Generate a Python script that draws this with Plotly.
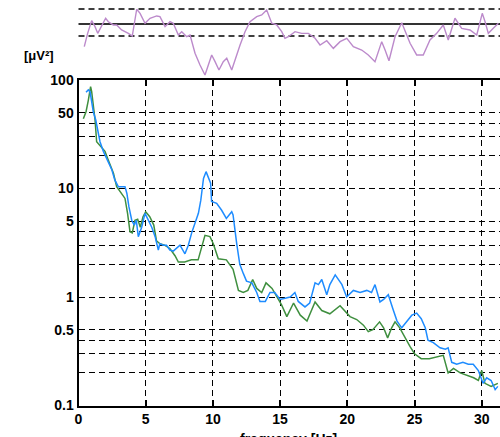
import plotly.graph_objects as go

# ---- data ----
freq_blue = [0.56, 0.73, 0.86, 0.98, 1.1, 1.28, 1.43, 1.6, 1.85, 2.2, 2.47, 2.7, 2.96, 3.46, 3.6, 3.75,
             3.96, 4.15, 4.3, 4.45, 4.7, 4.95, 5.2, 5.45, 5.7, 5.94, 6.05, 6.3, 6.55, 6.8, 7.05, 7.3,
             7.55, 7.92, 8.17, 8.42, 8.67, 8.92, 9.1, 9.3, 9.49, 9.66, 9.83, 9.9, 10.28, 10.65, 11.0,
             11.4, 11.5, 11.77, 12.0, 12.26, 12.5, 12.9, 13.26, 13.5, 13.9, 14.25, 14.6, 15.0, 15.36,
             15.75, 16.1, 16.35, 16.85, 17.2, 17.6, 17.85, 18.1, 18.47, 18.7, 19.1, 19.6, 19.95, 20.45,
             20.95, 21.45, 21.8, 22.06, 22.43, 22.7, 23.05, 23.4, 23.7, 24.05, 24.4, 24.8, 25.16, 25.5,
             25.8, 26.0, 26.4, 26.9, 27.3, 27.5, 27.77, 28.14, 28.6, 29.0, 29.37, 29.75, 30.1, 30.37,
             30.7, 31.0, 31.2]
power_blue = [77, 81, 78, 65, 51, 43, 35, 27, 22, 18, 15, 12, 10.4, 10.4, 9, 6.8,
              5.1, 4.6, 5.1, 3.6, 4.4, 5.9, 5.1, 4.4, 3.6, 2.7, 3.1, 3.0, 3.0, 2.7, 2.65, 2.8,
              3.0, 2.5, 3.0, 3.9, 4.8, 5.9, 7.8, 12.4, 14.3, 12.4, 11.2, 7.6, 7.3, 6.3, 5.3,
              6.1, 5.7, 3.1, 2.0, 1.65, 1.4, 1.35, 1.1, 0.91, 0.91, 1.1, 1.1, 0.95, 0.98,
              1.0, 1.1, 0.91, 0.81, 0.88, 1.35, 1.3, 1.45, 1.05, 1.3, 1.6, 1.3, 1.0, 1.15,
              1.1, 1.15, 1.1, 1.3, 0.9, 0.95, 1.05, 0.77, 0.6, 0.52, 0.59, 0.68, 0.71, 0.63,
              0.52, 0.4, 0.38, 0.34, 0.33, 0.34, 0.25, 0.24, 0.25, 0.24, 0.24, 0.21, 0.16, 0.18,
              0.17, 0.14, 0.15]

freq_green = [0.36, 0.56, 0.73, 0.9, 0.98, 1.1, 1.23, 1.35, 1.6, 1.97, 2.2, 2.6, 2.84, 3.2, 3.46,
              3.65, 3.83, 4.0, 4.2, 4.4, 4.6, 4.8, 5.0, 5.3, 5.6, 5.8, 6.05, 6.4, 6.8, 7.18, 7.43,
              7.9, 8.4, 8.9, 9.16, 9.41, 9.78, 10.03, 10.4, 11.0, 11.5, 11.9, 12.26, 12.6, 12.96,
              13.26, 13.63, 13.95, 14.4, 14.75, 15.1, 15.5, 16.0, 16.5, 17.0, 17.6, 18.1, 18.7,
              19.46, 20.2, 20.7, 21.2, 21.56, 21.9, 22.4, 22.7, 23.0, 23.3, 23.55, 23.9, 24.3,
              24.66, 25.0, 25.5, 26.1, 26.6, 27.14, 27.5, 27.9, 28.4, 28.9, 29.4, 29.75, 30.0,
              30.24, 30.7, 31.2]
power_green = [44, 51, 65, 87, 78, 57, 43, 27, 25, 22, 18.5, 13.8, 10.4, 9, 8.1,
               5.9, 4.0, 3.9, 5.1, 5.2, 4.4, 5.5, 6.1, 5.5, 4.6, 3.3, 3.1, 3.0, 2.8, 2.4, 2.1,
               2.1, 2.2, 2.2, 2.9, 3.7, 3.6, 3.1, 2.25, 2.2, 1.8, 1.15, 1.1, 1.15, 1.45,
               1.2, 1.1, 1.35, 1.2, 1.0, 0.85, 0.66, 0.88, 0.68, 0.6, 0.9, 0.75, 0.7,
               0.83, 0.66, 0.62, 0.55, 0.48, 0.5, 0.59, 0.52, 0.42, 0.52, 0.59, 0.52, 0.42,
               0.35, 0.3, 0.27, 0.27, 0.28, 0.29, 0.2, 0.22, 0.2, 0.19, 0.18, 0.17, 0.21,
               0.16, 0.15, 0.16]

freq_top = [0.43, 0.68, 0.98, 1.23, 1.43, 1.73, 2.02, 2.22, 2.59, 2.84, 3.21, 3.71, 4.0, 4.33, 4.58,
            4.95, 5.32, 5.82, 6.06, 6.44, 6.81, 7.05, 7.43, 7.68, 8.05, 8.3, 8.67, 9.04, 9.41, 9.66,
            9.91, 10.16, 10.45, 10.77, 11.03, 11.4, 11.64, 12.02, 12.39, 12.76, 13.26, 13.63, 14.0,
            14.38, 14.75, 15.12, 15.36, 15.61, 16.11, 16.61, 17.1, 17.6, 17.97, 18.47, 18.96, 19.46,
            19.96, 20.45, 21.07, 21.56, 22.06, 22.56, 22.81, 23.1, 23.55, 24.05, 24.67, 25.16, 25.65,
            26.15, 26.65, 27.14, 27.51, 28.01, 28.51, 29.13, 29.63, 30.04, 30.25, 30.49, 30.86, 31.24]
value_top = [-1.89, -0.78, 0.28, -0.22, -0.78, -0.08, 0.48, 0.19, -0.08, -0.08, -0.5, -0.78, -1.0,
             1.23, 0.89, 0.06, 0.48, 0.67, 0.61, -0.22, 0.19, 0.06, -0.92, -0.64, -1.06, -0.92,
             -2.44, -3.42, -4.25, -3.42, -2.58, -3.14, -3.83, -3.14, -2.86, -3.83, -3.0, -1.75,
             -0.64, 0.19, 0.61, 0.75, 1.17, 0.06, -0.08, -0.64, -1.19, -1.06, -0.64, -0.78, -0.78,
             -1.19, -1.75, -1.39, -2.03, -1.47, -1.19, -1.89, -2.17, -2.58, -3.14, -1.47, -2.17,
             -3.06, -1.06, 0.11, -1.61, -2.58, -2.58, -1.33, -0.78, -0.08, -1.33, 0.48, -0.36,
             -0.5, -0.92, 0.89, 0.19, -0.78, -0.36, 0.06]
top_refs = [1.25, 0.0, -1.0]   # dashed, solid, dashed

y_ticks = [0.1, 0.5, 1, 5, 10, 50, 100]
y_ticktext = ["0.1", "0.5", "1", "5", "10", "50", "100"]
y_minor = [0.2, 0.3, 0.4, 2, 3, 4, 20, 30, 40]
x_ticks = [0, 5, 10, 15, 20, 25, 30]

BLUE = "#1E8CFF"
GREEN = "#3F8F3F"
PURPLE = "#BC8ACB"
FONT = "Liberation Sans, Arial, sans-serif"

fig = go.Figure()
fig.add_trace(go.Scatter(x=freq_green, y=power_green, mode="lines",
                         line=dict(color=GREEN, width=1.5), xaxis="x", yaxis="y"))
fig.add_trace(go.Scatter(x=freq_blue, y=power_blue, mode="lines",
                         line=dict(color=BLUE, width=1.5), xaxis="x", yaxis="y"))
fig.add_trace(go.Scatter(x=freq_top, y=value_top, mode="lines",
                         line=dict(color=PURPLE, width=1.4), xaxis="x2", yaxis="y2"))

for v in top_refs:
    solid = (v == 0.0)
    fig.add_shape(type="line", xref="x2 domain", yref="y2", x0=0, x1=1, y0=v, y1=v,
                  line=dict(color="#333333" if solid else "black", width=2 if solid else 1.5,
                            dash="solid" if solid else "6px,4px"), layer="below")

XL = 78.5 / 500
GRID = dict(gridcolor="black", gridwidth=1.3, griddash="6px,4px")
fig.update_layout(
    width=500, height=437, autosize=False,
    margin=dict(l=0, r=0, t=0, b=0, pad=0, autoexpand=False),
    paper_bgcolor="white", plot_bgcolor="white",
    showlegend=False,
    xaxis=dict(domain=[XL, 1], range=[0, 31.36], tickvals=x_ticks, automargin=False,
               ticks="inside", ticklen=6, tickcolor="black", tickwidth=1.5,
               showline=True, linecolor="black", linewidth=2, mirror="ticks",
               showgrid=True, **GRID,
               zeroline=False, anchor="y",
               tickfont=dict(family=FONT, size=14, color="black", weight="bold")),
    yaxis=dict(domain=[31.5 / 437, 357 / 437], type="log", range=[-1, 2], automargin=False,
               tickvals=y_ticks, ticktext=y_ticktext,
               ticks="", showline=True, linecolor="black", linewidth=2,
               showgrid=True, **GRID,
               minor=dict(tickmode="array", tickvals=y_minor, showgrid=True, ticks="", **GRID),
               zeroline=False, anchor="x",
               tickfont=dict(family=FONT, size=14, color="black", weight="bold")),
    xaxis2=dict(domain=[XL, 1], range=[0, 31.36], anchor="y2", automargin=False,
                showline=False, showgrid=False, zeroline=False, showticklabels=False, ticks=""),
    yaxis2=dict(domain=[(437 - 78) / 437, 1], range=[-4.5, 2.0], anchor="x2", automargin=False,
                showline=False, showgrid=False, zeroline=False, showticklabels=False, ticks=""),
)

fig.add_annotation(text="[μV²]", xref="paper", yref="paper", x=22 / 500, y=(437 - 55) / 437,
                   xanchor="left", yanchor="middle", showarrow=False,
                   font=dict(family=FONT, size=13, color="black", weight="bold"))
fig.add_annotation(text="frequency [Hz]", xref="paper", yref="paper", x=288 / 500, y=(437 - 429) / 437,
                   xanchor="center", yanchor="top", showarrow=False,
                   font=dict(family=FONT, size=14, color="black", weight="bold"))

fig.write_html("out.html")
